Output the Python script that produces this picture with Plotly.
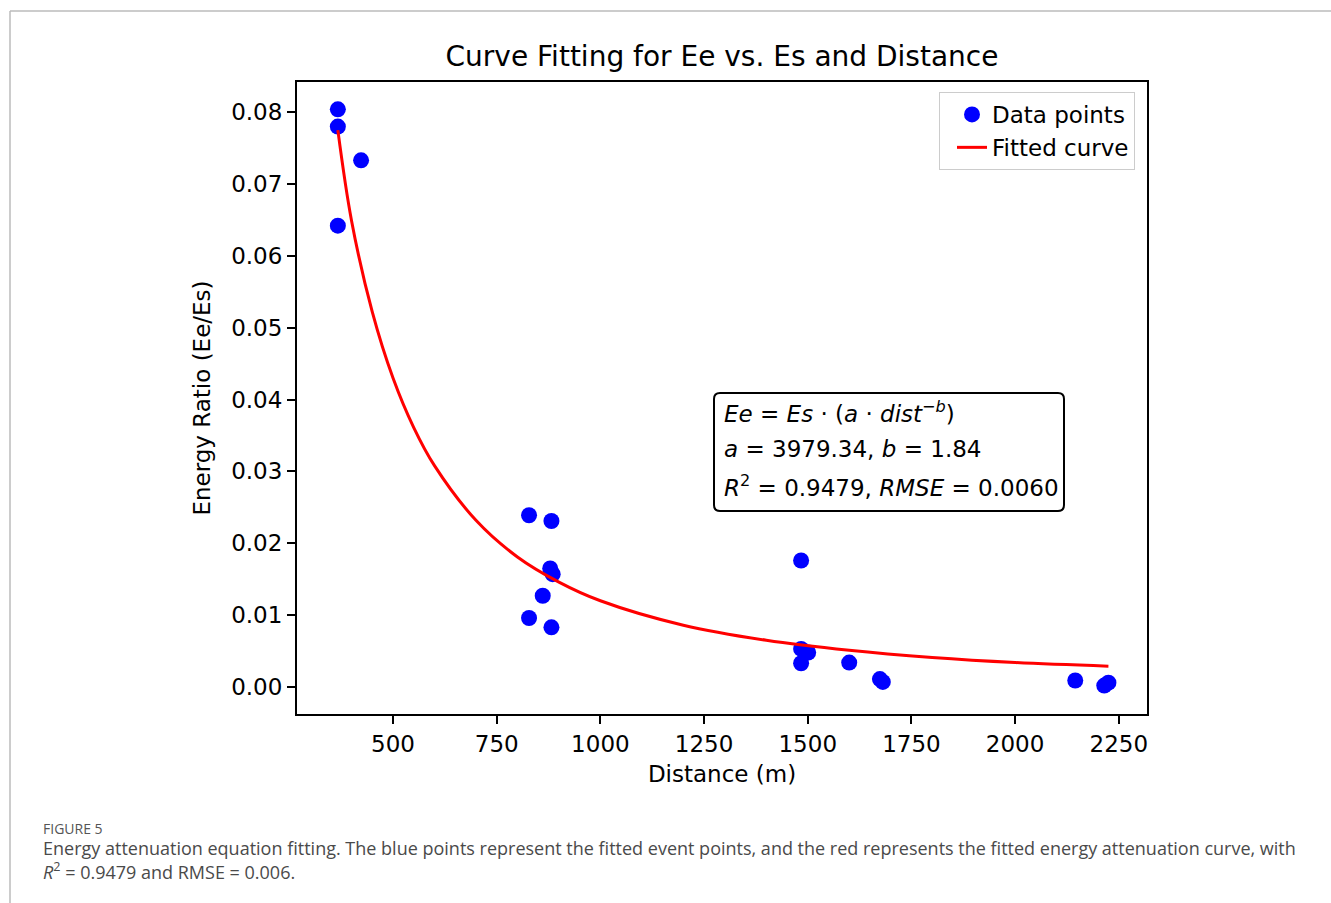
import plotly.graph_objects as go

# Data points (Distance m, Energy ratio Ee/Es)
dist_pts = [367, 367, 423, 367, 828, 882, 879, 885, 861, 828, 882,
            1484, 1484, 1501, 1484, 1600, 1674, 1681, 2145, 2215, 2225]
ratio_pts = [0.0804, 0.0780, 0.0733, 0.0642, 0.0239, 0.0231, 0.0165, 0.0157,
             0.0127, 0.0096, 0.0083, 0.0176, 0.0053, 0.0048, 0.0033, 0.0034,
             0.0011, 0.0007, 0.0009, 0.0002, 0.0006]

# Fitted curve samples
curve_x = [367, 400, 450, 500, 550, 600, 700, 800, 900, 1000,
           1200, 1400, 1600, 1800, 2000, 2225]
curve_y = [0.0775, 0.0649, 0.0522, 0.0430, 0.0361, 0.0308, 0.0232, 0.0181,
           0.0146, 0.0120, 0.0086, 0.0065, 0.0051, 0.0041, 0.0034, 0.0029]

x_ticks = [500, 750, 1000, 1250, 1500, 1750, 2000, 2250]
y_ticks = [0.00, 0.01, 0.02, 0.03, 0.04, 0.05, 0.06, 0.07, 0.08]

FONT = "DejaVu Sans"
FS = 23

fig = go.Figure()
fig.add_trace(go.Scatter(x=dist_pts, y=ratio_pts, mode="markers", name="Data points",
                         marker=dict(color="#0000ff", size=16, line=dict(width=0))))
fig.add_trace(go.Scatter(x=curve_x, y=curve_y, mode="lines", name="Fitted curve",
                         line=dict(color="#ff0000", width=3, shape="spline")))

L, R, T, B = 297, 1147, 82, 714
W, H = 1331, 903
pw, ph = R - L, B - T

def px(xp):
    return (xp - L) / pw

def py(yp):
    return (B - yp) / ph

axis_common = dict(showline=True, linecolor="black", linewidth=2, mirror=True,
                   ticks="outside", ticklen=8, tickwidth=1.5, tickcolor="black",
                   showgrid=False, zeroline=False,
                   tickfont=dict(family=FONT, size=FS, color="black"))

fig.update_layout(
    width=W, height=H,
    margin=dict(l=L, r=W - R, t=T, b=H - B),
    paper_bgcolor="white", plot_bgcolor="white",
    title=dict(text="Curve Fitting for Ee vs. Es and Distance",
               x=(L + R) / 2 / W, xanchor="center", y=1 - 56 / H, yanchor="middle",
               font=dict(family=FONT, size=28, color="black")),
    xaxis=dict(range=[268.5, 2318], tickvals=x_ticks,
               title=dict(text="Distance (m)", font=dict(family=FONT, size=FS, color="black"), standoff=10),
               **axis_common),
    yaxis=dict(range=[-0.00376, 0.0842], tickvals=y_ticks, tickformat=".2f",
               title=dict(text="Energy Ratio (Ee/Es)", font=dict(family=FONT, size=FS, color="black"), standoff=14),
               **axis_common),
    legend=dict(x=px(1135), xanchor="right", y=py(92), yanchor="top",
                bgcolor="white", bordercolor="#cccccc", borderwidth=1,
                indentation=12,
                font=dict(family=FONT, size=FS, color="black"), tracegroupgap=4),
    showlegend=True,
)

shapes = []
# outer figure frame (top and left light-gray lines)
shapes.append(dict(type="line", xref="paper", yref="paper",
                   x0=px(10), x1=px(W + 5), y0=py(11), y1=py(11),
                   line=dict(color="#bbbbbb", width=1.5)))
shapes.append(dict(type="line", xref="paper", yref="paper",
                   x0=px(10), x1=px(10), y0=py(11), y1=py(H + 5),
                   line=dict(color="#bbbbbb", width=1.5)))
# rounded annotation box
bx0, bx1, by0, by1 = px(714), px(1064), py(511), py(393)
rx, ry = 6 / pw, 6 / ph
path = (f"M {bx0+rx},{by0} L {bx1-rx},{by0} Q {bx1},{by0} {bx1},{by0+ry} "
        f"L {bx1},{by1-ry} Q {bx1},{by1} {bx1-rx},{by1} "
        f"L {bx0+rx},{by1} Q {bx0},{by1} {bx0},{by1-ry} "
        f"L {bx0},{by0+ry} Q {bx0},{by0} {bx0+rx},{by0} Z")
shapes.append(dict(type="path", xref="paper", yref="paper", path=path,
                   line=dict(color="black", width=2), fillcolor="white", layer="above"))
fig.update_layout(shapes=shapes)

box_lines = [
    "<i>Ee</i> = <i>Es</i> · (<i>a</i> · <i>dist</i><sup>−<i>b</i></sup>)",
    "<i>a</i> = 3979.34, <i>b</i> = 1.84",
    "<i>R</i><sup>2</sup> = 0.9479, <i>RMSE</i> = 0.0060",
]
box_y = [412, 449, 486]
for txt, yy in zip(box_lines, box_y):
    fig.add_annotation(xref="paper", yref="paper", x=px(722), y=py(yy),
                       xanchor="left", yanchor="middle", showarrow=False, text=txt,
                       font=dict(family=FONT, size=FS, color="black"))

cap_font = "Open Sans"
fig.add_annotation(xref="paper", yref="paper", x=px(41), y=py(828), xanchor="left",
                   yanchor="middle", showarrow=False, text="FIGURE 5",
                   font=dict(family=cap_font, size=14, color="#555555"))
fig.add_annotation(xref="paper", yref="paper", x=px(41), y=py(848), xanchor="left",
                   yanchor="middle", showarrow=False,
                   text="Energy attenuation equation fitting. The blue points represent the fitted event points, and the red represents the fitted energy attenuation curve, with",
                   font=dict(family=cap_font, size=18, color="#4a4a4a"))
fig.add_annotation(xref="paper", yref="paper", x=px(41), y=py(871), xanchor="left",
                   yanchor="middle", showarrow=False,
                   text="<i>R</i><sup>2</sup> = 0.9479 and RMSE = 0.006.",
                   font=dict(family=cap_font, size=18, color="#4a4a4a"))

fig.write_html("out.html")
